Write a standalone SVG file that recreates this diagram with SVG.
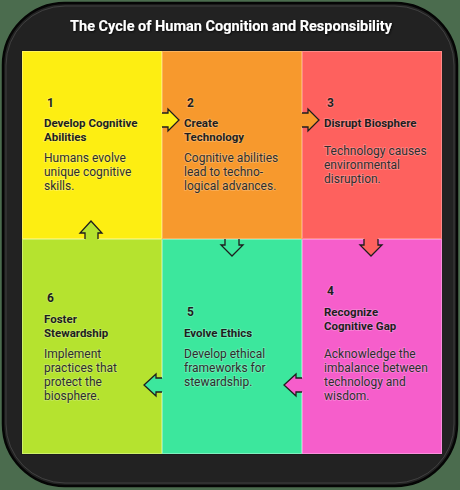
<svg xmlns="http://www.w3.org/2000/svg" width="460" height="490" viewBox="0 0 460 490">
<style>
.num{font-family:Roboto,"Liberation Sans",sans-serif;font-weight:700;font-size:12px;fill:#1e1e1e}
.ttl{font-family:Roboto,"Liberation Sans",sans-serif;font-weight:700;font-size:11.5px;fill:#1e1e1e}
.dsc{font-family:Roboto,"Liberation Sans",sans-serif;font-size:12px;fill:#2e2e2e}
.num,.ttl,.dsc{paint-order:stroke;stroke:rgba(255,255,255,0.25);stroke-width:1.5px}
.cell{stroke-width:1}
.arr{stroke:#1e1e1e;stroke-width:1.3;fill:none;stroke-linejoin:miter}
</style>
<defs>
<filter id="sh" x="-5%" y="-30%" width="110%" height="160%">
<feDropShadow dx="0.8" dy="1" stdDeviation="0.8" flood-color="#000" flood-opacity="0.8"/>
</filter>
</defs>
<rect x="0" y="0" width="460" height="490" fill="#4b6c4e"/>
<rect x="3" y="3" width="454" height="483" rx="62" ry="62" fill="#222222" stroke="#050505" stroke-width="2.5"/>
<rect x="6" y="6" width="448" height="477" rx="59" ry="59" fill="none" stroke="#555" stroke-width="1" opacity="0.6"/>
<text x="231" y="31" text-anchor="middle" font-family="Roboto,'Liberation Sans',sans-serif" font-weight="700" font-size="14.5" fill="#ffffff" filter="url(#sh)">The Cycle of Human Cognition and Responsibility</text>
<rect x="21" y="50" width="421" height="405" fill="#1c1c1c"/>

<g id="node1">
<rect class="cell" x="22.5" y="51.5" width="139" height="187" fill="#fdee12" stroke="#fff35a"/>
<text class="num" x="47" y="107">1</text>
<text class="ttl" x="44" y="127">Develop Cognitive</text>
<text class="ttl" x="44" y="141">Abilities</text>
<text class="dsc" x="44" y="162">Humans evolve</text>
<text class="dsc" x="44" y="176">unique cognitive</text>
<text class="dsc" x="44" y="190">skills.</text>
</g>
<g id="node2">
<rect class="cell" x="162.5" y="51.5" width="139" height="187" fill="#f7992d" stroke="#fbb35e"/>
<text class="num" x="187" y="107">2</text>
<text class="ttl" x="184" y="127">Create</text>
<text class="ttl" x="184" y="141">Technology</text>
<text class="dsc" x="184" y="162">Cognitive abilities</text>
<text class="dsc" x="184" y="176">lead to techno-</text>
<text class="dsc" x="184" y="190">logical advances.</text>
</g>
<g id="node3">
<rect class="cell" x="302.5" y="51.5" width="139" height="187" fill="#fe615e" stroke="#ff8a88"/>
<text class="num" x="327" y="107">3</text>
<text class="ttl" x="324" y="127">Disrupt Biosphere</text>
<text class="dsc" x="324" y="155">Technology causes</text>
<text class="dsc" x="324" y="169">environmental</text>
<text class="dsc" x="324" y="183">disruption.</text>
</g>
<g id="node6">
<rect class="cell" x="22.5" y="239.5" width="139" height="214" fill="#b5e32f" stroke="#cdf06a"/>
<text class="num" x="47" y="302">6</text>
<text class="ttl" x="44" y="323">Foster</text>
<text class="ttl" x="44" y="337">Stewardship</text>
<text class="dsc" x="44" y="358">Implement</text>
<text class="dsc" x="44" y="372">practices that</text>
<text class="dsc" x="44" y="386">protect the</text>
<text class="dsc" x="44" y="400">biosphere.</text>
</g>
<g id="node5">
<rect class="cell" x="162.5" y="239.5" width="139" height="214" fill="#3ce79d" stroke="#7ef0bf"/>
<text class="num" x="187" y="316">5</text>
<text class="ttl" x="184" y="337">Evolve Ethics</text>
<text class="dsc" x="184" y="358">Develop ethical</text>
<text class="dsc" x="184" y="372">frameworks for</text>
<text class="dsc" x="184" y="386">stewardship.</text>
</g>
<g id="node4">
<rect class="cell" x="302.5" y="239.5" width="139" height="214" fill="#f65ecb" stroke="#fa8fdc"/>
<text class="num" x="327" y="295">4</text>
<text class="ttl" x="324" y="316">Recognize</text>
<text class="ttl" x="324" y="330">Cognitive Gap</text>
<text class="dsc" x="324" y="358">Acknowledge the</text>
<text class="dsc" x="324" y="372">imbalance between</text>
<text class="dsc" x="324" y="386">technology and</text>
<text class="dsc" x="324" y="400">wisdom.</text>
</g>

<g id="connectors">
<!-- 1 -> 2 -->
<polygon points="160,113 168,113 168,109 179,120 168,131 168,127 160,127" fill="#fdee12"/>
<polyline class="arr" points="162,113 168,113 168,109 179,120 168,131 168,127 162,127"/>
<!-- 2 -> 3 -->
<polygon points="300,113 308,113 308,109 319,120 308,131 308,127 300,127" fill="#f7992d"/>
<polyline class="arr" points="302,113 308,113 308,109 319,120 308,131 308,127 302,127"/>
<!-- 3 -> 4 -->
<polygon points="364,237 364,245 360,245 371,256 382,245 378,245 378,237" fill="#fe615e"/>
<polyline class="arr" points="364,239 364,245 360,245 371,256 382,245 378,245 378,239"/>
<!-- 2 -> 5 -->
<polygon points="225,240 225,245 221,245 232,256 243,245 239,245 239,240" fill="#3ce79d"/>
<polyline class="arr" points="225,239 225,245 221,245 232,256 243,245 239,245 239,239"/>
<!-- 4 -> 5 -->
<polygon points="304,378 296,378 296,374 284,385 296,396 296,392 304,392" fill="#f65ecb"/>
<polyline class="arr" points="302,378 296,378 296,374 284,385 296,396 296,392 302,392"/>
<!-- 5 -> 6 -->
<polygon points="164,378 156,378 156,374 144,385 156,396 156,392 164,392" fill="#3ce79d"/>
<polyline class="arr" points="162,378 156,378 156,374 144,385 156,396 156,392 162,392"/>
<!-- 6 -> 1 -->
<polygon points="85,241 85,233 80,233 91,221 102,233 98,233 98,241" fill="#b5e32f"/>
<polyline class="arr" points="85,239 85,233 80,233 91,221 102,233 98,233 98,239"/>
</g>
</svg>
